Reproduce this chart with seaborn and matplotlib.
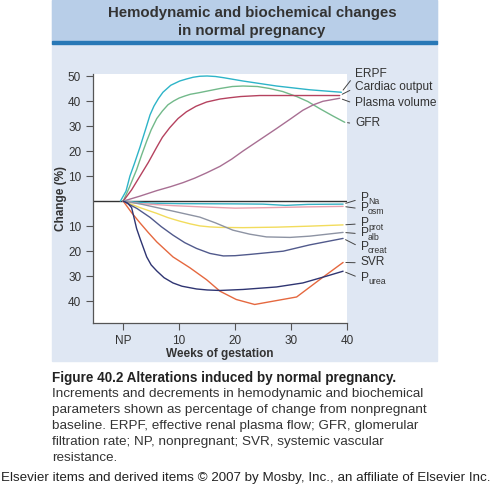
import pandas as pd
import matplotlib
matplotlib.use("Agg")
import matplotlib.pyplot as plt
from matplotlib.patches import Rectangle
import seaborn as sns

sns.set_style("ticks")
plt.rcParams["font.family"] = ["Liberation Sans", "DejaVu Sans"]

# weeks of gestation (0 = NP) and % change
erpf_wk = [-0.5, 0.5, 1.2, 2, 3, 3.9, 4.8, 5.5, 6.3, 7.1, 8.5, 10.1, 11.3, 12.5, 13.7, 15, 16.5,
           18, 21.4, 27.4, 33.3, 39]
erpf_val = [0, 4, 10, 15, 21.6, 28, 34.5, 38, 41, 43.5, 46.3, 48, 48.8, 49.5, 49.9, 50, 49.8,
            49.3, 48, 46, 44.5, 43.5]
gfr_wk = [0, 1, 2.4, 3.3, 4.2, 5, 6, 7, 8, 9, 10, 11, 12, 13.5, 15.5, 17.3, 19.5, 21.4, 24, 26.2,
          28.5, 31, 33, 35.1, 37.5, 39.6]
gfr_val = [0, 5, 12.6, 18.5, 24, 28.5, 33, 36, 38.5, 40, 41.2, 42, 42.7, 43.3, 44.2, 45, 45.8, 46,
           45.8, 45, 43.8, 41.8, 39.8, 37, 34, 31.5]
co_wk = [0, 1.5, 3, 4.5, 6, 7, 8.3, 9.8, 11.3, 13, 14.9, 17.3, 19, 21, 24.4, 30.4, 38.7]
co_val = [0, 4.5, 10, 15.5, 21.6, 25.5, 29.3, 33, 35.7, 37.9, 39.6, 40.8, 41.3, 41.8, 42.2, 42.2, 42.2]
pv_wk = [0, 3, 6, 8.5, 10.7, 12.8, 14.9, 17.3, 19.4, 21.4, 24.4, 27.4, 30, 32.1, 34, 35.7, 38.7]
pv_val = [0, 2, 4.2, 5.8, 7.4, 9.2, 11.3, 13.9, 16.8, 20, 24.5, 29, 33, 36.3, 38.5, 39.9, 41.1]
na_wk = [0, 5, 10, 20, 25, 29, 33, 39.3]
na_val = [0, -0.8, -1, -1.1, -1.2, -1.7, -1.3, -1.2]
osm_wk = [0, 3, 8.9, 14, 20, 26, 33, 39.3]
osm_val = [0, -1, -1.8, -2.3, -2.8, -2.6, -2.3, -2.1]
prot_wk = [0, 3, 6, 8, 10.1, 12, 13.7, 15.5, 17.3, 21.4, 27.4, 33.3, 39.3]
prot_val = [0, -2.6, -4.9, -6.6, -8, -9.1, -9.9, -10.3, -10.5, -10.6, -10.4, -10, -9.5]
alb_wk = [0, 3, 8.9, 13.7, 16.5, 19.6, 22.6, 25.6, 29.8, 33.3, 39.3]
alb_val = [0, -1.1, -4, -6.4, -8.7, -11.6, -13.2, -14.3, -14.5, -14, -12.5]
creat_wk = [0, 2.5, 4.8, 6.8, 8.9, 11, 13.1, 15.5, 17.9, 20, 22.6, 28.6, 33.3, 39.3]
creat_val = [0, -3, -6.5, -10.2, -13.6, -16.6, -18.9, -20.9, -21.9, -21.8, -21.3, -20, -17.5, -14.9]
svr_wk = [0, 1.5, 3, 4.5, 6, 8.9, 11.9, 14.9, 17.3, 20.2, 23.5, 31, 35.1, 39.3]
svr_val = [0, -4.6, -8.7, -12.6, -16.3, -22.3, -26.6, -31.4, -36, -39.3, -41.3, -38.3, -31.4, -24.5]
urea_wk = [0, 0.8, 1.5, 2.4, 3, 4.2, 5, 6, 7.3, 8.9, 10.5, 13.1, 15, 17.3, 21.4, 27.4, 32.1, 36.3, 39.3]
urea_val = [0, -0.8, -2.6, -11, -14.9, -22.3, -25.5, -27.9, -30.6, -32.7, -34, -35.1, -35.5, -35.7,
            -35.3, -34.3, -32.7, -30, -28]

x_ticks = [0, 10, 20, 30, 40]
x_labels = ["NP", "10", "20", "30", "40"]
y_ticks = [50, 40, 30, 20, 10, -10, -20, -30, -40]
y_labels = ["50", "40", "30", "20", "10", "10", "20", "30", "40"]

series = {
    "ERPF": (erpf_wk, erpf_val),
    "GFR": (gfr_wk, gfr_val),
    "Cardiac output": (co_wk, co_val),
    "Plasma volume": (pv_wk, pv_val),
    "P_Na": (na_wk, na_val),
    "P_osm": (osm_wk, osm_val),
    "P_prot": (prot_wk, prot_val),
    "P_alb": (alb_wk, alb_val),
    "P_creat": (creat_wk, creat_val),
    "SVR": (svr_wk, svr_val),
    "P_urea": (urea_wk, urea_val),
}
colors = {
    "ERPF": "#2db4c8", "GFR": "#72b98a", "Cardiac output": "#b5425f",
    "Plasma volume": "#a86f93", "P_Na": "#36b2c4", "P_osm": "#e8a0ae",
    "P_prot": "#f2dc5c", "P_alb": "#8d93a3", "P_creat": "#515a8c",
    "SVR": "#e5683f", "P_urea": "#2f3572",
}
# label: main text, subscript, x and y (pixels from top-left)
labels = {
    "ERPF": ("ERPF", "", 355, 73), "Cardiac output": ("Cardiac output", "", 355, 86),
    "Plasma volume": ("Plasma volume", "", 355, 102), "GFR": ("GFR", "", 355, 122),
    "P_Na": ("P", "Na", 360.5, 197), "P_osm": ("P", "osm", 360.5, 207),
    "P_prot": ("P", "prot", 360.5, 222), "P_alb": ("P", "alb", 360.5, 232),
    "P_creat": ("P", "creat", 360.5, 245.5), "SVR": ("SVR", "", 360.5, 261),
    "P_urea": ("P", "urea", 360.5, 276.5),
}

rows = []
for name, (wk, val) in series.items():
    for w, v in zip(wk, val):
        rows.append({"series": name, "week": w, "change": v})
df = pd.DataFrame(rows)

W, H = 490, 488
fig = plt.figure(figsize=(W / 100, H / 100), dpi=100)

# panel backgrounds
fig.patches.append(Rectangle((52 / W, 1 - 361 / H), 385 / W, 361 / H, transform=fig.transFigure,
                             color="#dfe7f3", zorder=-3))
fig.patches.append(Rectangle((52 / W, 1 - 41 / H), 385 / W, 41 / H, transform=fig.transFigure,
                             color="#b8cee8", zorder=-2))
fig.patches.append(Rectangle((52 / W, 1 - 44 / H), 385 / W, 3 / H, transform=fig.transFigure,
                             color="#2878b6", zorder=-1))
fig.text(252 / W, 1 - 22 / H, "Hemodynamic and biochemical changes\nin normal pregnancy",
         ha="center", va="center", fontsize=10.8, fontweight="bold", color="#333333",
         linespacing=1.45)

ax = fig.add_axes([93 / W, 1 - 323 / H, 254 / W, 249 / H])
ax.set_facecolor("white")
sns.lineplot(data=df, x="week", y="change", hue="series", palette=colors, estimator=None,
             sort=False, legend=False, linewidth=1.0, ax=ax)
ax.axhline(0, color="#333333", lw=1.0, zorder=1)

ax.set_xlim(-5.4, 40)
ax.set_ylim(-48.7, 50.8)
ax.set_xticks(x_ticks, x_labels)
ax.set_yticks(y_ticks, y_labels)
ax.tick_params(length=5, width=0.8, color="#555555", labelsize=8.5, labelcolor="#333333")
for side in ["top", "right"]:
    ax.spines[side].set_visible(False)
for side in ["left", "bottom"]:
    ax.spines[side].set_color("#555555")
    ax.spines[side].set_linewidth(0.9)
ax.set_xlabel("Weeks of gestation", fontsize=8.5, fontweight="bold", color="#333333", labelpad=1)
ax.set_ylabel("Change (%)", fontsize=8.5, fontweight="bold", color="#333333", labelpad=1)

for name, (text, sub, xpix, ypix) in labels.items():
    wk, val = series[name]
    ax.annotate(text, xy=(wk[-1], val[-1]), xycoords="data",
                xytext=(xpix, H - ypix - 4.2), textcoords="figure pixels",
                ha="left", va="baseline", fontsize=8.6, color="#333333",
                arrowprops=dict(arrowstyle="-", color="#444444", lw=0.7,
                                shrinkA=1.5, shrinkB=2, relpos=(0, 0.45)))
    if sub:
        fig.text((xpix + 7.6) / W, 1 - (ypix + 7.5) / H, sub, ha="left", va="baseline",
                 fontsize=6.3, color="#333333")

caption = [
    "Increments and decrements in hemodynamic and biochemical",
    "parameters shown as percentage of change from nonpregnant",
    "baseline. ERPF, effective renal plasma flow; GFR, glomerular",
    "filtration rate; NP, nonpregnant; SVR, systemic vascular",
    "resistance.",
]
fig.text(52 / W, 1 - 378 / H, "Figure 40.2 Alterations induced by normal pregnancy.",
         fontsize=9.75, fontweight="bold", color="#222222", va="center")
for i, line in enumerate(caption):
    fig.text(52 / W, 1 - (394 + 16 * i) / H, line, fontsize=9.7, color="#333333", va="center")
fig.text(1 / W, 1 - 478 / H,
         "Elsevier items and derived items \u00a9 2007 by Mosby, Inc., an affiliate of Elsevier Inc.",
         fontsize=9.6, color="#222222", va="center")

fig.savefig("out.png", dpi=100)
